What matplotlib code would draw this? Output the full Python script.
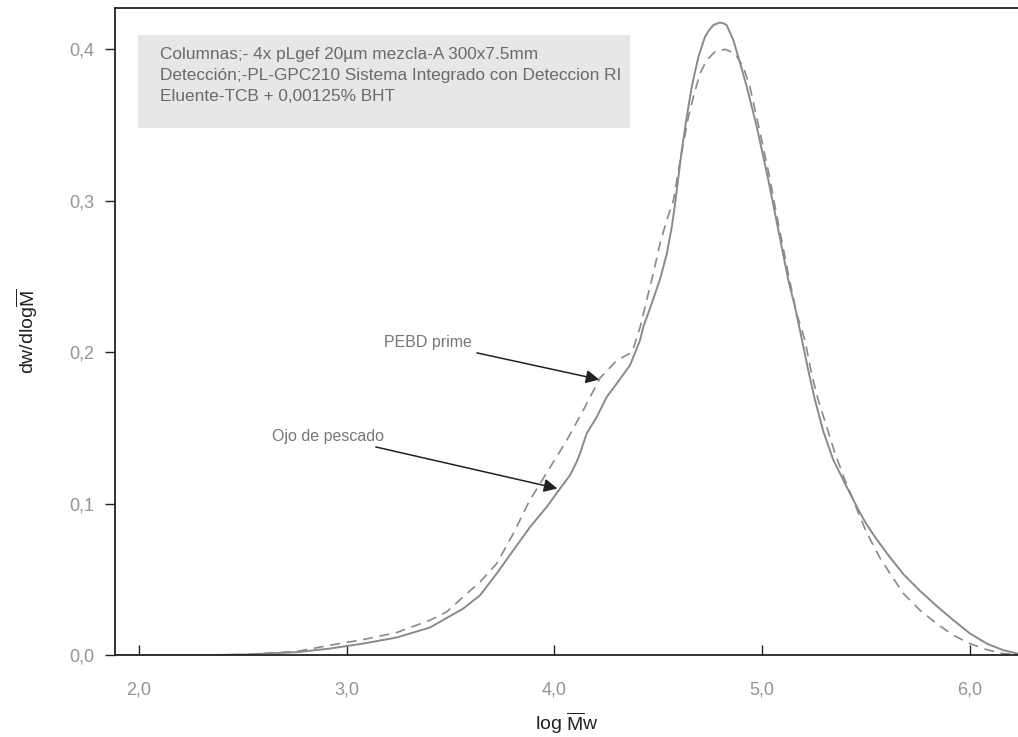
import matplotlib
matplotlib.use("Agg")
import matplotlib.pyplot as plt
from matplotlib.patches import Rectangle
from matplotlib.ticker import FuncFormatter

plt.rcParams['font.family'] = ['Liberation Sans', 'DejaVu Sans']
plt.rcParams['mathtext.fontset'] = 'custom'
plt.rcParams['mathtext.rm'] = 'Liberation Sans'

# Ojo de pescado (linea continua)
x_ojo = [1.88, 2.30, 2.52, 2.76, 2.92, 3.08, 3.241, 3.401, 3.561, 3.642, 3.722, 3.802,
         3.883, 3.963, 4.027, 4.075, 4.107, 4.123, 4.155, 4.204, 4.252, 4.30, 4.364,
         4.412, 4.428, 4.468, 4.508, 4.541, 4.565, 4.581, 4.597, 4.613, 4.637, 4.661,
         4.693, 4.725, 4.745, 4.765, 4.794, 4.81, 4.829, 4.861, 4.894, 4.926, 4.974,
         5.03, 5.062, 5.094, 5.126, 5.158, 5.182, 5.198, 5.222, 5.255, 5.295, 5.343,
         5.407, 5.439, 5.471, 5.50, 5.536, 5.57, 5.616, 5.68, 5.76, 5.84, 5.921, 6.001,
         6.081, 6.161, 6.232]
y_ojo = [0.0, 0.0, 0.0005, 0.002, 0.0044, 0.0077, 0.0117, 0.0183, 0.0308, 0.0396, 0.0539, 0.0693,
         0.0847, 0.0979, 0.110, 0.1188, 0.1276, 0.1331, 0.1463, 0.1573, 0.1705, 0.1793, 0.1914,
         0.2079, 0.2167, 0.232, 0.248, 0.265, 0.2827, 0.2981, 0.3157, 0.3333, 0.3553, 0.3751,
         0.3949, 0.4081, 0.4125, 0.4158, 0.4174, 0.4172, 0.4158, 0.406, 0.3906, 0.3751, 0.3487,
         0.3135, 0.2916, 0.2695, 0.2475, 0.2299, 0.2145, 0.204, 0.188, 0.168, 0.1475, 0.1287,
         0.1111, 0.1025, 0.094, 0.087, 0.0795, 0.073, 0.0645, 0.0535, 0.0425, 0.0325, 0.0231,
         0.0143, 0.0077, 0.0033, 0.001]

# PEBD prime (linea discontinua)
x_pebd = [1.88, 2.30, 2.52, 2.76, 2.92, 3.08, 3.241, 3.401, 3.481, 3.561, 3.642, 3.722,
          3.802, 3.88, 3.97, 4.06, 4.14, 4.22, 4.30, 4.374, 4.413, 4.444, 4.476, 4.508,
          4.541, 4.573, 4.597, 4.621, 4.645, 4.669, 4.701, 4.733, 4.773, 4.821, 4.869,
          4.909, 4.941, 4.99, 5.035, 5.068, 5.10, 5.132, 5.166, 5.206, 5.238, 5.27, 5.311,
          5.351, 5.399, 5.439, 5.471, 5.503, 5.568, 5.616, 5.68, 5.76, 5.84, 5.92, 6.00,
          6.08, 6.16, 6.232]
y_pebd = [0.0, 0.0, 0.0005, 0.0025, 0.0066, 0.0103, 0.015, 0.0231, 0.0286, 0.0385, 0.0484, 0.0605,
          0.0803, 0.102, 0.122, 0.142, 0.162, 0.183, 0.1945, 0.200, 0.2167, 0.2343, 0.2519, 0.2717,
          0.2871, 0.3003, 0.3201, 0.3377, 0.3553, 0.3685, 0.3839, 0.3927, 0.3982, 0.3998, 0.3972,
          0.3883, 0.3751, 0.345, 0.316, 0.2916, 0.2695, 0.2475, 0.2255, 0.2079, 0.1859, 0.1683,
          0.1507, 0.1331, 0.1155, 0.1023, 0.0913, 0.081, 0.064, 0.0539, 0.0407, 0.0297, 0.0209,
          0.0132, 0.0077, 0.0037, 0.0011, 0.0003]

xticks = [2.0, 3.0, 4.0, 5.0, 6.0]
yticks = [0.0, 0.1, 0.2, 0.3, 0.4]

info = ("Columnas;- 4x pLgef 20µm mezcla-A 300x7.5mm\n"
        "Detección;-PL-GPC210 Sistema Integrado con Deteccion RI\n"
        "Eluente-TCB + 0,00125% BHT")

fig = plt.figure(figsize=(10.18, 7.37), dpi=100)
ax = fig.add_axes([0.113, 0.111, 0.887, 0.878])

ax.plot(x_ojo, y_ojo, color='#8a8a8a', lw=1.4)
ax.plot(x_pebd, y_pebd, color='#8a8a8a', lw=1.2, ls=(0, (6, 4)))

ax.set_xlim(1.884, 6.232)
ax.set_ylim(0, 0.427)
ax.set_xticks(xticks)
ax.set_yticks(yticks)
fmt = FuncFormatter(lambda v, p: f"{v:.1f}".replace('.', ','))
ax.xaxis.set_major_formatter(fmt)
ax.yaxis.set_major_formatter(fmt)
ax.tick_params(axis='x', direction='in', length=7, width=1, colors='#222222',
               labelcolor='#949494', labelsize=13, pad=19)
ax.tick_params(axis='y', direction='out', length=7, width=1, colors='#222222',
               labelcolor='#949494', labelsize=13, pad=8)

ax.spines['right'].set_visible(False)
for s in ['left', 'top', 'bottom']:
    ax.spines[s].set_color('#222222')
    ax.spines[s].set_linewidth(1.3)

ax.set_xlabel(r'log $\overline{\mathrm{M}}$w', fontsize=14, color='#222222', labelpad=8)
ax.set_ylabel(r'dw/dlog$\overline{\mathrm{M}}$', fontsize=14, color='#222222', labelpad=21)

# caja de condiciones
ax.add_patch(Rectangle((0.0255, 0.8145), 0.5445, 0.1435, transform=ax.transAxes,
                       fc='#e6e7e8', ec='none', zorder=1))
ax.text(0.0498, 0.94, info, transform=ax.transAxes, fontsize=12.4, color='#6a6a6a',
        va='top', ha='left', linespacing=1.5, zorder=2)

arrow = dict(arrowstyle='-|>', color='#222222', lw=1.1, mutation_scale=20)
ax.annotate('PEBD prime', xy=(4.229, 0.1815), xytext=(3.60, 0.2066), fontsize=11.5,
            color='#777777', ha='right', va='center', arrowprops=arrow)
ax.annotate('Ojo de pescado', xy=(4.027, 0.1096), xytext=(3.18, 0.1446), fontsize=11.5,
            color='#777777', ha='right', va='center', arrowprops=arrow)

fig.savefig('out.png', dpi=100)
